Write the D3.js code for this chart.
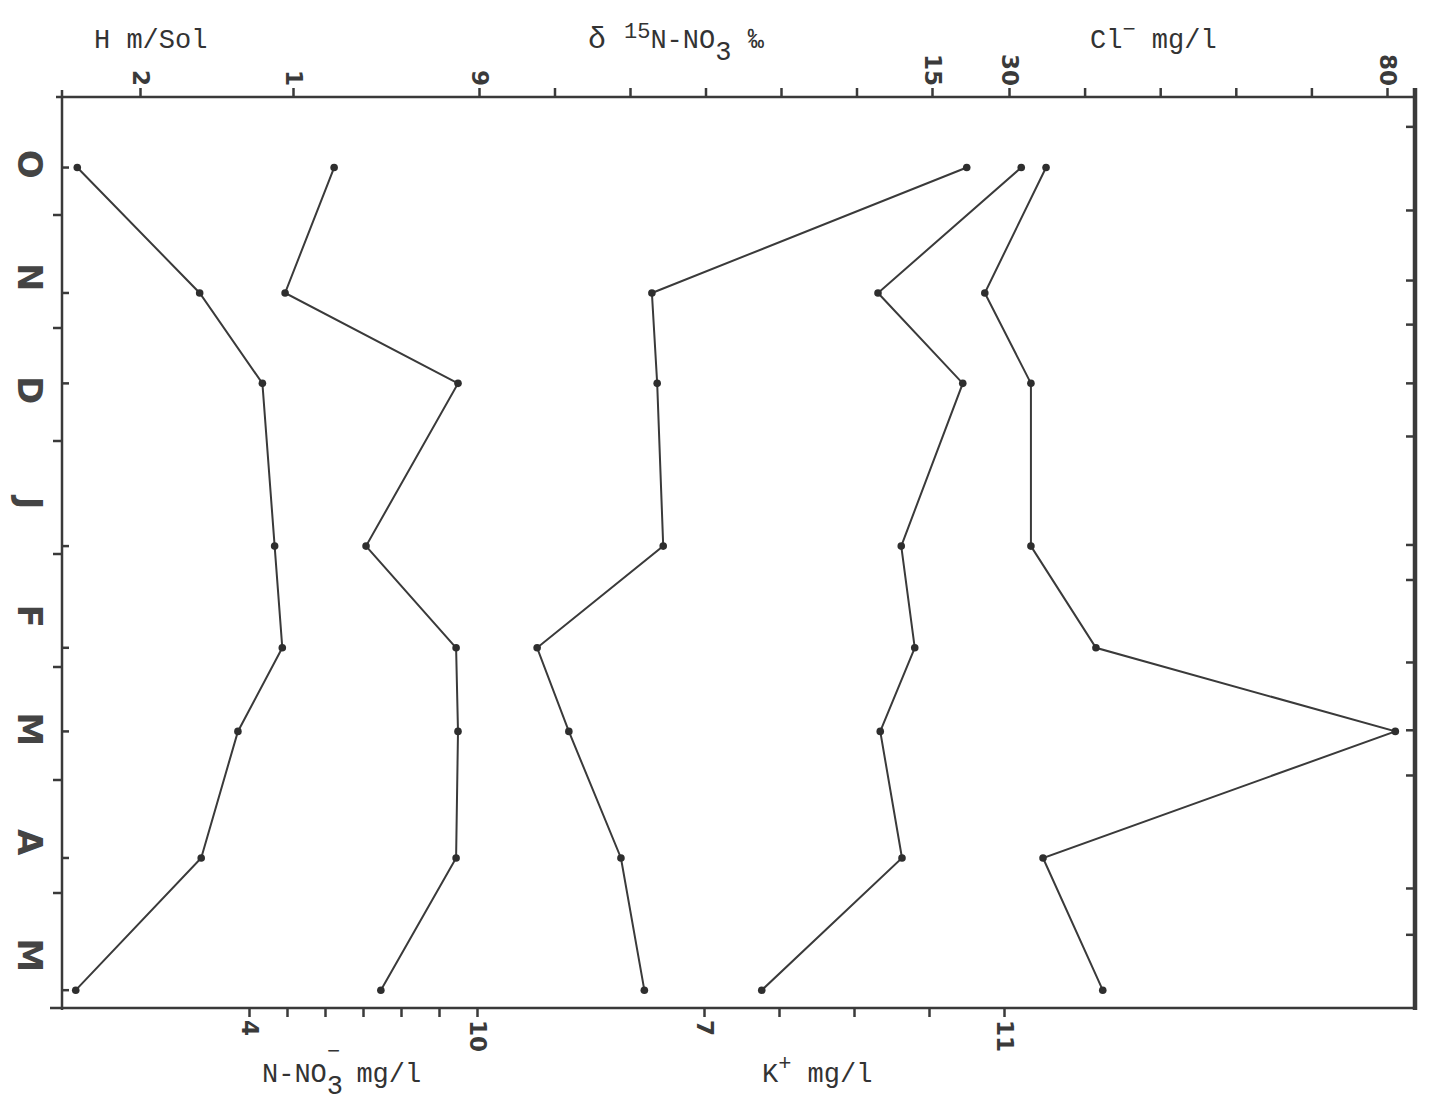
<!DOCTYPE html>
<html>
<head>
<meta charset="utf-8">
<script src="https://cdn.jsdelivr.net/npm/d3@7/dist/d3.min.js"></script>
<style>
  html, body { margin: 0; padding: 0; background: #fff; }
  svg { display: block; }
</style>
</head>
<body>
<svg id="chart" width="1438" height="1105"></svg>
<script>
// Monthly sampling, October to May (position in months since 1 October)
const months = ["O", "N", "D", "J", "F", "M", "A", "M"];
const sampleMonth = [0.58, 1.69, 2.49, 3.93, 4.83, 5.57, 6.69, 7.86];

// Series, one value per sampling date
const depthH    = [2.41, 1.61, 1.20, 1.12, 1.07, 1.36, 1.60, 2.42];      // H m/Sol
const nitrateN  = [6.24, 4.95, 9.50, 7.08, 9.45, 9.50, 9.45, 7.47];      // N-NO3- mg/l
const delta15N  = [15.46, 11.29, 11.36, 11.44, 9.77, 10.19, 10.88, 11.19]; // δ15N-NO3 ‰
const potassium = [11.23, 9.32, 10.45, 9.63, 9.81, 9.35, 9.64, 7.77];    // K+ mg/l
const chloride  = [34.9, 26.8, 32.9, 32.9, 41.5, 81.1, 34.5, 42.4];      // Cl- mg/l

// Tick values and the ones that carry a label
const depthTicks = [2, 1];
const deltaTicks = [9, 10, 11, 12, 13, 14, 15];
const deltaLabels = [9, 15];
const chlorideTicks = [30, 40, 50, 60, 70, 80];
const chlorideLabels = [30, 80];
const nitrateTicks = [4, 5, 6, 7, 8, 9, 10];
const nitrateLabels = [4, 10];
const potassiumTicks = [7, 8, 9, 10, 11];
const potassiumLabels = [7, 11];
const monthBounds = [1, 2, 3, 4, 5, 6, 7];
const sideMarks = [0.22, 0.96, 1.58, 1.97, 2.49, 2.96, 3.92, 4.23, 4.96, 5.56, 5.96, 6.96, 7.37];

const ink = "#3a3a3a";
const svg = d3.select("#chart");

const frameL = 62, frameR = 1415, frameT = 97, frameB = 1008;

const y = d3.scaleLinear().domain([0, 8]).range([102, 1006]);
const xH  = d3.scaleLinear().domain([2, 1]).range([140, 293]);
const xN  = d3.scaleLinear().domain([4, 10]).range([249, 477]);
const xD  = d3.scaleLinear().domain([9, 15]).range([479, 932]);
const xK  = d3.scaleLinear().domain([7, 11]).range([704, 1004]);
const xCl = d3.scaleLinear().domain([30, 80]).range([1009, 1387]);

// Frame
const frame = svg.append("g").attr("stroke", ink).attr("fill", "none");
frame.append("line").attr("x1", 56).attr("x2", frameR).attr("y1", frameT).attr("y2", frameT).attr("stroke-width", 2.5);
frame.append("line").attr("x1", 50).attr("x2", frameR).attr("y1", frameB).attr("y2", frameB).attr("stroke-width", 2.5);
frame.append("line").attr("x1", frameL).attr("x2", frameL).attr("y1", 90).attr("y2", frameB + 2).attr("stroke-width", 2.5);
frame.append("line").attr("x1", frameR).attr("x2", frameR).attr("y1", 88).attr("y2", frameB + 2).attr("stroke-width", 4.5);

// Top and bottom value axes; numbers are stencilled sideways
function valueAxis(scale, ticks, labels, side) {
  const isTop = side === "top";
  const gen = (isTop ? d3.axisTop(scale) : d3.axisBottom(scale))
    .tickValues(ticks)
    .tickSize(9)
    .tickFormat(d => labels.includes(d) ? String(d) : "");
  const g = svg.append("g")
    .attr("transform", `translate(0,${isTop ? frameT : frameB})`)
    .call(gen);
  g.select(".domain").remove();
  g.selectAll(".tick line").attr("stroke", ink).attr("stroke-width", 2.5);
  g.selectAll(".tick text")
    .attr("fill", ink)
    .attr("font-family", "DejaVu Sans, sans-serif")
    .attr("font-weight", "bold")
    .attr("font-size", 23)
    .attr("x", isTop ? -11 : 12)
    .attr("y", 0)
    .attr("dy", null)
    .attr("dominant-baseline", "central")
    .attr("text-anchor", isTop ? "end" : "start")
    .attr("transform", "rotate(90)");
  return g;
}
valueAxis(xH, depthTicks, depthTicks, "top");
valueAxis(xD, deltaTicks, deltaLabels, "top");
valueAxis(xCl, chlorideTicks, chlorideLabels, "top");
valueAxis(xN, nitrateTicks, nitrateLabels, "bottom");
valueAxis(xK, potassiumTicks, potassiumLabels, "bottom");

// Time axis on the left: month boundaries outside, sampling dates inside
const timeG = svg.append("g").attr("stroke", ink).attr("stroke-width", 2.5);
timeG.selectAll("line.bound").data(monthBounds).join("line")
  .attr("class", "bound")
  .attr("x1", frameL - 9).attr("x2", frameL)
  .attr("y1", d => y(d)).attr("y2", d => y(d));
timeG.selectAll("line.sample").data(sampleMonth).join("line")
  .attr("class", "sample")
  .attr("x1", frameL).attr("x2", frameL + 7)
  .attr("y1", d => y(d)).attr("y2", d => y(d));
timeG.selectAll("line.side").data(sideMarks).join("line")
  .attr("class", "side")
  .attr("x1", frameR - 9).attr("x2", frameR)
  .attr("y1", d => y(d)).attr("y2", d => y(d));

svg.append("g").selectAll("text").data(months).join("text")
  .attr("transform", (d, i) => `translate(30,${y(i + 0.55)}) rotate(90)`)
  .attr("text-anchor", "middle")
  .attr("dominant-baseline", "central")
  .attr("font-family", "DejaVu Sans, sans-serif")
  .attr("font-weight", "bold")
  .attr("font-size", 34)
  .attr("fill", "#444")
  .text(d => d);

// Series lines with dots
const seriesList = [
  { values: depthH, x: xH },
  { values: nitrateN, x: xN },
  { values: delta15N, x: xD },
  { values: potassium, x: xK },
  { values: chloride, x: xCl }
];
const plot = svg.append("g");
seriesList.forEach(s => {
  const pts = s.values.map((v, i) => [s.x(v), y(sampleMonth[i])]);
  plot.append("path")
    .attr("d", d3.line()(pts))
    .attr("fill", "none")
    .attr("stroke", ink)
    .attr("stroke-width", 2);
  plot.append("g").selectAll("circle").data(pts).join("circle")
    .attr("cx", d => d[0]).attr("cy", d => d[1]).attr("r", 3.8)
    .attr("fill", "#2e2e2e");
});

// Axis titles (typewritten)
const titleFont = "Liberation Mono, DejaVu Sans Mono, monospace";
function title(x, yy) {
  return svg.append("text")
    .attr("x", x).attr("y", yy)
    .attr("font-family", titleFont)
    .attr("font-size", 27)
    .attr("fill", "#333");
}
title(94, 48).text("H m/Sol");

const dT = title(588, 48);
dT.append("tspan").attr("font-size", 30).text("δ ");
dT.append("tspan").attr("dy", -10).attr("font-size", 22).text("15");
dT.append("tspan").attr("dy", 10).text("N-NO");
dT.append("tspan").attr("dy", 12).text("3");
dT.append("tspan").attr("dy", -12).text(" ‰");

const cT = title(1090, 48);
cT.append("tspan").text("Cl");
cT.append("tspan").attr("dy", -12).attr("font-size", 22).text("−");
cT.append("tspan").attr("dy", 12).text(" mg/l");

const nT = title(262, 1082);
nT.append("tspan").text("N-NO");
nT.append("tspan").attr("dy", 12).text("3");
nT.append("tspan").attr("dy", -36).attr("dx", -16).attr("font-size", 22).text("−");
nT.append("tspan").attr("dy", 24).text(" mg/l");

const kT = title(762, 1082);
kT.append("tspan").text("K");
kT.append("tspan").attr("dy", -12).attr("font-size", 22).text("+");
kT.append("tspan").attr("dy", 12).text(" mg/l");
</script>
</body>
</html>
